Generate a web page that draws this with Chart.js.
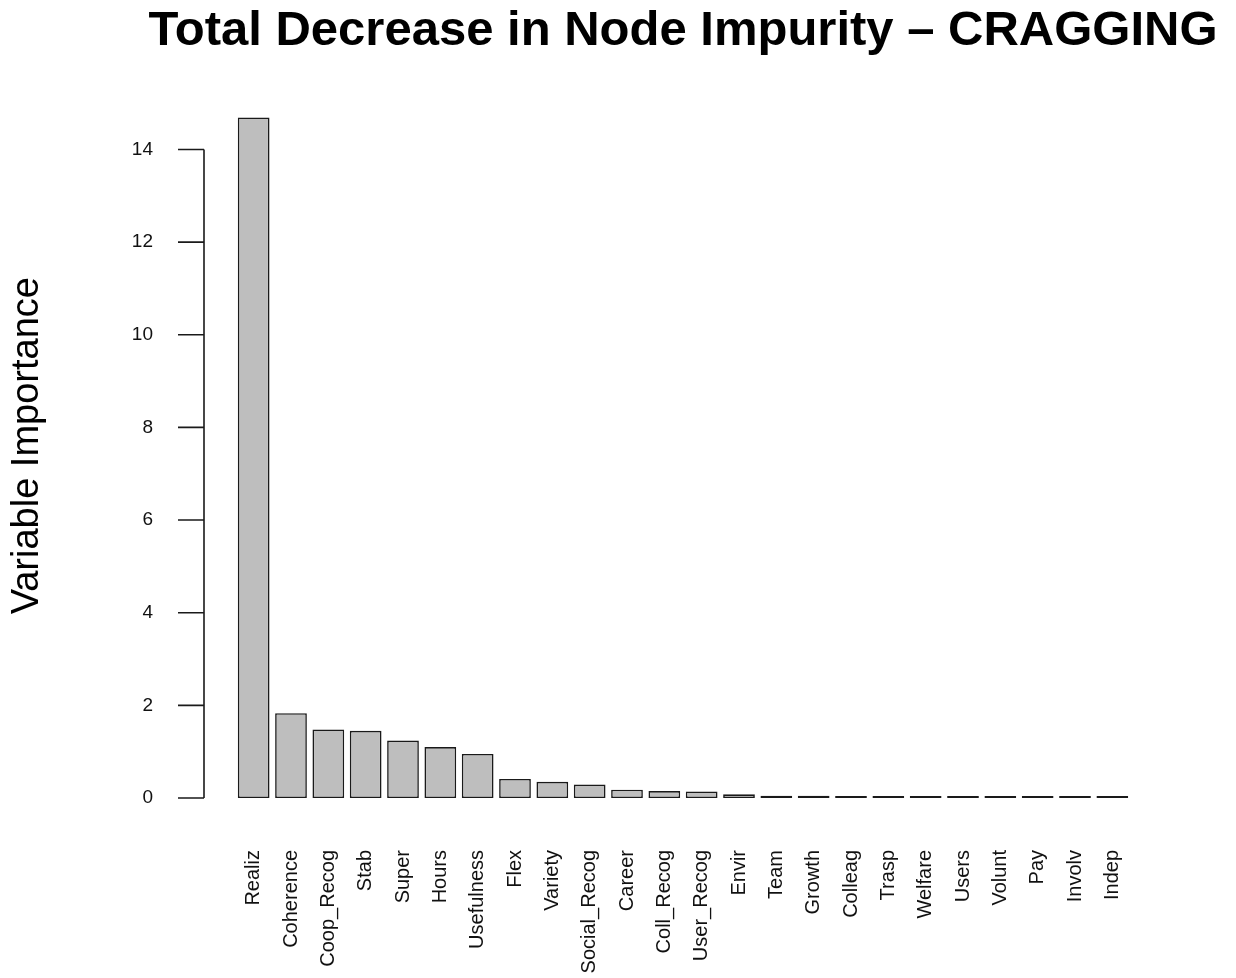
<!DOCTYPE html>
<html>
<head>
<meta charset="utf-8">
<title>Total Decrease in Node Impurity - CRAGGING</title>
<script src="https://cdn.jsdelivr.net/npm/chart.js@4/dist/chart.umd.min.js"></script>
<style>
    html, body { margin: 0; padding: 0; background: #fff; }
    #wrap { width: 1236px; height: 978px; position: relative; }
</style>
</head>
<body>
<div id="wrap"><canvas id="impChart"></canvas></div>
<script>
const variables = ['Realiz', 'Coherence', 'Coop_Recog', 'Stab', 'Super', 'Hours', 'Usefulness', 'Flex',
    'Variety', 'Social_Recog', 'Career', 'Coll_Recog', 'User_Recog', 'Envir', 'Team', 'Growth',
    'Colleag', 'Trasp', 'Welfare', 'Users', 'Volunt', 'Pay', 'Involv', 'Indep'];
const importance = [14.69, 1.83, 1.48, 1.45, 1.24, 1.10, 0.95, 0.41,
    0.35, 0.29, 0.18, 0.15, 0.14, 0.08, 0.05, 0.05,
    0.04, 0.02, 0.01, 0.01, 0.01, 0.01, 0.01, 0.01];
const yTicks = [0, 2, 4, 6, 8, 10, 12, 14];
const chartTitle = 'Total Decrease in Node Impurity \u2013 CRAGGING';

const FONT = "'Liberation Sans', Arial, Helvetica, sans-serif";

// R-style axis: line only from first to last tick, ticks sticking out to the left
const rAxis = {
    id: 'rAxis',
    afterDraw(chart) {
        const y = chart.scales.y;
        const ctx = chart.ctx;
        const x0 = chart.chartArea.left - 31;
        ctx.save();
        ctx.strokeStyle = '#1a1a1a';
        ctx.lineWidth = 1.6;
        ctx.beginPath();
        ctx.moveTo(x0, y.getPixelForValue(yTicks[0]));
        ctx.lineTo(x0, y.getPixelForValue(yTicks[yTicks.length - 1]));
        yTicks.forEach(v => {
            const py = y.getPixelForValue(v);
            ctx.moveTo(x0 - 26, py);
            ctx.lineTo(x0, py);
        });
        ctx.stroke();
        ctx.restore();
    }
};

// main title centred over the plot region (like R's main=), not squeezed
const plotTitle = {
    id: 'plotTitle',
    afterDraw(chart) {
        const ctx = chart.ctx;
        const { left, right } = chart.chartArea;
        ctx.save();
        ctx.fillStyle = '#000';
        ctx.font = 'bold 49px ' + FONT;
        ctx.textAlign = 'center';
        ctx.textBaseline = 'alphabetic';
        ctx.fillText(chartTitle, (left + right) / 2, 45);
        ctx.restore();
    }
};

new Chart(document.getElementById('impChart'), {
    type: 'bar',
    data: {
        labels: variables,
        datasets: [{
            label: 'Variable Importance',
            data: importance,
            backgroundColor: '#bebebe',
            borderColor: '#1a1a1a',
            borderWidth: 1.6,
            borderSkipped: false,
            minBarLength: 2,
            barPercentage: 0.85,
            categoryPercentage: 1
        }]
    },
    options: {
        responsive: true,
        maintainAspectRatio: false,
        animation: false,
        devicePixelRatio: 1,
        layout: { padding: { left: 0, right: 105, top: 90, bottom: 0 } },
        plugins: {
            legend: { display: false },
            tooltip: { enabled: false },
            title: { display: false }
        },
        scales: {
            x: {
                grid: { display: false, drawTicks: false },
                border: { display: false },
                ticks: {
                    autoSkip: false,
                    maxRotation: 90,
                    minRotation: 90,
                    padding: 52,
                    color: '#111',
                    font: { family: FONT, size: 20 }
                },
                afterFit(s) { s.height = 180; }
            },
            y: {
                min: 0,
                max: 15.21,
                grid: { display: false, drawTicks: false },
                border: { display: false },
                afterBuildTicks(s) { s.ticks = yTicks.map(v => ({ value: v })); },
                ticks: {
                    padding: 82,
                    color: '#111',
                    font: { family: FONT, size: 19 }
                },
                title: {
                    display: true,
                    text: 'Variable Importance',
                    color: '#000',
                    font: { family: FONT, size: 38 },
                    padding: { top: 5, bottom: 0 }
                },
                afterFit(s) { s.width = 235; }
            }
        }
    },
    plugins: [rAxis, plotTitle]
});
</script>
</body>
</html>
